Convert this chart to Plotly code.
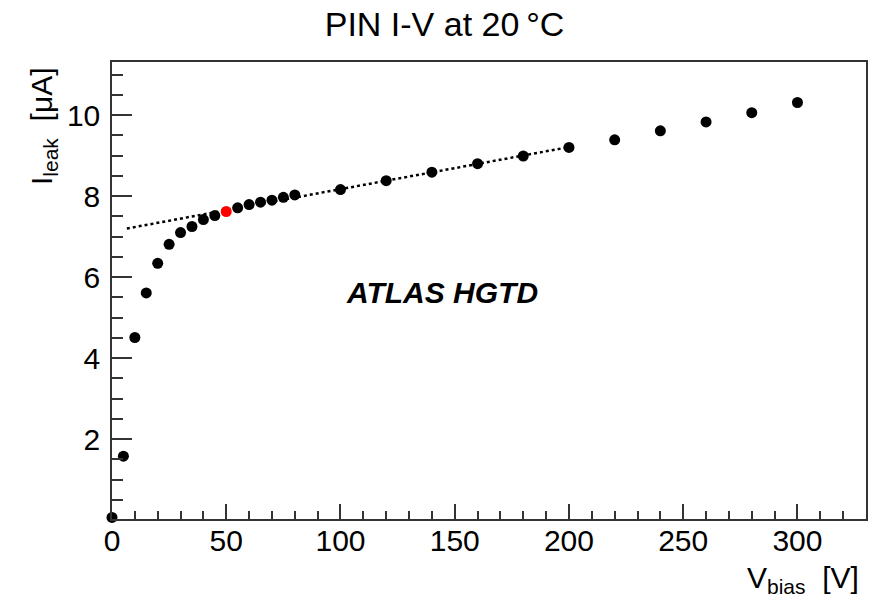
import plotly.graph_objects as go

# Data
v_bias = [0, 5, 10, 15, 20, 25, 30, 35, 40, 45, 50, 55, 60, 65, 70, 75, 80,
          100, 120, 140, 160, 180, 200, 220, 240, 260, 280, 300]
i_leak = [0.07, 1.58, 4.51, 5.61, 6.34, 6.81, 7.10, 7.25, 7.42, 7.52, 7.62, 7.71,
          7.79, 7.85, 7.90, 7.97, 8.03, 8.16, 8.38, 8.59, 8.80, 8.99, 9.20,
          9.39, 9.61, 9.83, 10.06, 10.31]
highlight_v = 50  # point drawn in red

fit_x = [6.5, 200]
fit_y = [7.20, 9.21]

x_range = [0, 330]
y_range = [0.03, 11.31]
x_ticks = [0, 50, 100, 150, 200, 250, 300]
y_ticks = [2, 4, 6, 8, 10]

colors = ["red" if v == highlight_v else "black" for v in v_bias]

FONT = "Liberation Sans, Arial, Helvetica, sans-serif"

fig = go.Figure()
fig.add_trace(go.Scatter(x=fit_x, y=fit_y, mode="lines",
                         line=dict(color="black", width=2.5, dash="dot"),
                         showlegend=False, hoverinfo="skip"))
fig.add_trace(go.Scatter(x=v_bias, y=i_leak, mode="markers", cliponaxis=False,
                         marker=dict(color=colors, size=11, line=dict(width=0)),
                         showlegend=False))

axis_common = dict(showgrid=False, zeroline=False, showline=True,
                   linecolor="#333", linewidth=1.5, mirror=True,
                   ticks="inside", tickcolor="#333", tickwidth=1.5,
                   tickfont=dict(family=FONT, size=30, color="black"))

fig.update_xaxes(range=x_range, tickvals=x_ticks, ticklen=15,
                 minor=dict(dtick=10, ticks="inside", ticklen=8,
                            tickcolor="#333", tickwidth=1.5),
                 ticklabelstandoff=-6, **axis_common)
fig.update_yaxes(range=y_range, tickvals=y_ticks, ticklen=20,
                 minor=dict(dtick=0.5, ticks="inside", ticklen=11,
                            tickcolor="#333", tickwidth=1.5),
                 ticklabelstandoff=4, **axis_common)

fig.update_layout(
    width=884, height=598,
    margin=dict(l=112, r=18, t=62, b=79),
    plot_bgcolor="white", paper_bgcolor="white",
    title=dict(text="PIN I-V at 20\u2009°C", x=444.5 / 884, xanchor="center",
               y=1 - 24.5 / 598, yanchor="middle",
               font=dict(family=FONT, size=34, color="black")),
    annotations=[
        dict(text="<b><i>ATLAS HGTD</i></b>", x=144.3, y=5.62, xref="x", yref="y",
             showarrow=False, font=dict(family=FONT, size=30, color="black")),
        dict(text="V<sub>bias</sub>  [V]", x=1, y=0, xref="paper", yref="paper",
             xanchor="right", yanchor="top", yshift=-40, xshift=-5, showarrow=False,
             font=dict(family=FONT, size=30, color="black")),
        dict(text="I<sub>leak</sub>  [μA]", x=0, y=1, xref="paper", yref="paper",
             textangle=-90, xanchor="center", yanchor="top", xshift=-69, yshift=-3,
             showarrow=False, font=dict(family=FONT, size=30, color="black")),
    ],
)

fig.write_html("out.html")
